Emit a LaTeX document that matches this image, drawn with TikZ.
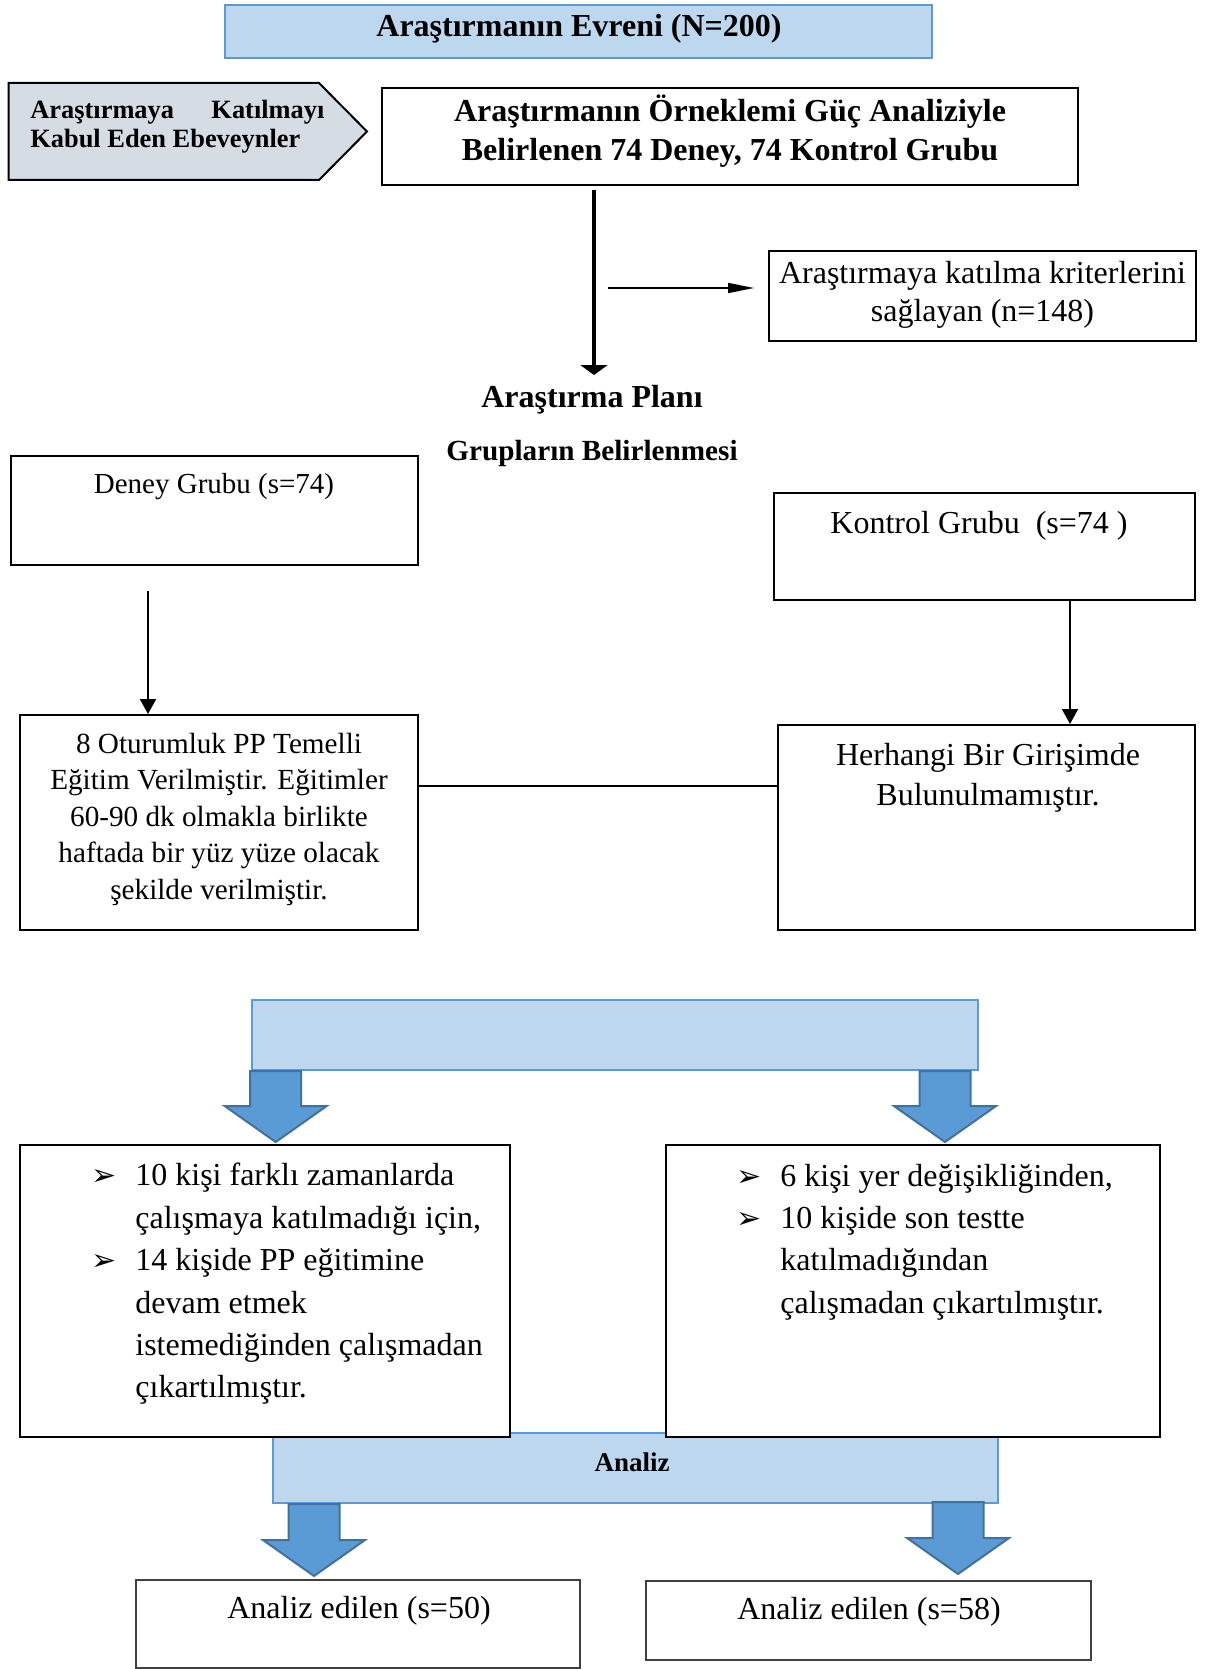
\documentclass[tikz,border=0pt]{standalone}
\usepackage{fontspec}
\setmainfont{Liberation Serif}
\newfontfamily\symfont{DejaVu Sans}
\usetikzlibrary{arrows.meta}
\definecolor{lb}{HTML}{BDD7EE}
\definecolor{lbd}{HTML}{5B9BD5}
\definecolor{ab}{HTML}{5B9BD5}
\definecolor{abd}{HTML}{41719C}
\definecolor{chev}{HTML}{D6DCE4}
\newcommand\bul{\makebox[22pt][l]{\symfont\fontsize{15}{15}\selectfont ➢}}
\newcommand\nob{\hspace*{22pt}}
\newcommand\blockarr[4]{\draw[barrow] (#1-25.5,#2) -- (#1+25.5,#2) -- (#1+25.5,#3) -- (#1+51,#3) -- (#1,#4) -- (#1-51,#3) -- (#1-25.5,#3) -- cycle;}
\begin{document}
\begin{tikzpicture}[x=0.5pt,y=-0.5pt,
  every node/.style={inner sep=0pt},
  box/.style={draw, line width=1pt, fill=white},
  bluebox/.style={draw=lbd, fill=lb, line width=1pt},
  txt/.style={align=center, font=\fontsize{16}{19.25}\selectfont},
  btxt/.style={align=center, font=\bfseries\fontsize{16}{19.25}\selectfont},
  thickarr/.style={line width=2pt, -{Triangle[length=5pt,width=13.5pt]}},
  thinarr/.style={line width=0.8pt, -{Triangle[length=13pt,width=5pt]}},
  midarr/.style={line width=1pt, -{Triangle[length=7.5pt,width=8pt]}},
  barrow/.style={fill=ab, draw=abd, line width=1pt},
  gbox/.style={draw=black!75, line width=0.8pt, fill=white}]
\useasboundingbox (0,0) rectangle (1206,1669);
\fill[white] (0,0) rectangle (1206,1669);

% top
\node[bluebox, minimum width=353.9pt, minimum height=26.6pt] (top) at (578.5,31.9) {};
\node[btxt] (topt) at (579,29) {Araştırmanın Evreni (N=200)};

% chevron
\draw[fill=chev, line width=1pt] (8.5,83) -- (319,83) -- (367,131.5) -- (319,180) -- (8.5,180) -- cycle;
\node[anchor=west, align=left, font=\bfseries\fontsize{13.2}{14.4}\selectfont] (chevt) at (30,127)
  {\makebox[147pt][s]{Araştırmaya\hfill Katılmayı}\\Kabul Eden Ebeveynler};

% main
\node[box, line width=1.3pt, minimum width=348pt, minimum height=48.5pt] (main) at (730,136.5) {};
\node[btxt] (maint) at (730,131) {Araştırmanın Örneklemi Güç Analiziyle\\Belirlenen 74 Deney, 74 Kontrol Grubu};

% criteria
\node[box, minimum width=213.75pt, minimum height=44.8pt] (crit) at (982.25,295.8) {};
\node[txt] (critt) at (982.5,295) {Araştırmaya katılma kriterlerini\\sağlayan (n=148)};

\coordinate (tbx) at (594,375);
\draw[thickarr, shorten <=2pt] (main.south -| tbx) -- (tbx);
\coordinate (cs) at (608,288);
\coordinate (ce) at (754,288);
\draw[thinarr] (cs) -- (ce);

\node[font=\bfseries\fontsize{16}{19}\selectfont] (plan) at (592,400) {Araştırma Planı};
\node[font=\bfseries\fontsize{14.6}{17}\selectfont] (grp) at (592,453) {Grupların Belirlenmesi};

% groups
\node[box, minimum width=203.7pt, minimum height=54.7pt] (deney) at (214.3,510.3) {};
\node[font=\fontsize{14.5}{17}\selectfont] (deneyt) at (214,487) {Deney Grubu (s=74)};
\node[box, minimum width=210.5pt, minimum height=53.5pt] (kontrol) at (984.5,546.5) {};
\node[txt] (kontrolt) at (979,526) {Kontrol Grubu~~(s=74~)};

\node[box, minimum width=199pt, minimum height=107.5pt] (pp) at (219,822.5) {};
\node[align=center, font=\fontsize{14.6}{18.25}\selectfont] (ppt) at (219,819)
  {8 Oturumluk PP Temelli\\Eğitim Verilmiştir. Eğitimler\\60-90 dk olmakla birlikte\\haftada bir yüz yüze olacak\\şekilde verilmiştir.};
\node[box, minimum width=208.5pt, minimum height=102.5pt] (herh) at (986.5,827.5) {};
\node[align=center, font=\fontsize{16}{20}\selectfont] (herht) at (988,778) {Herhangi Bir Girişimde\\Bulunulmamıştır.};

\coordinate (d1) at (148,591);
\draw[midarr] (d1) -- (d1 |- pp.north);
\coordinate (k1) at (1070,700);
\draw[midarr] (kontrol.south -| k1) -- (herh.north -| k1);
\coordinate (m1) at (600,786);
\draw[line width=1pt] (pp.east |- m1) -- (herh.west |- m1);

% first bar and arrows
\node[bluebox, minimum width=363pt, minimum height=35.25pt] (bar1) at (615,1034.75) {};
\blockarr{275.7}{1071}{1106}{1142}
\blockarr{945}{1071}{1106}{1142}

% analiz bar
\node[bluebox, minimum width=362.95pt, minimum height=35pt] (analiz) at (635.45,1468) {};
\node[font=\bfseries\fontsize{13.5}{16}\selectfont] (analizt) at (632,1462) {Analiz};

% lists
\node[box, minimum width=245pt, minimum height=146pt] (llist) at (265,1291) {};
\node[anchor=west, align=left, font=\fontsize{16}{21.2}\selectfont] (llistt) at (91,1284)
  {\bul 10 kişi farklı zamanlarda\\\nob çalışmaya katılmadığı için,\\\bul 14 kişide PP eğitimine\\\nob devam etmek\\\nob istemediğinden çalışmadan\\\nob çıkartılmıştır.};
\node[box, minimum width=247pt, minimum height=146pt] (rlist) at (913,1291) {};
\node[anchor=west, align=left, font=\fontsize{16}{21.2}\selectfont] (rlistt) at (736,1242)
  {\bul 6 kişi yer değişikliğinden,\\\bul 10 kişide son testte\\\nob katılmadığından\\\nob çalışmadan çıkartılmıştır.};

\blockarr{314}{1504}{1540}{1576}
\blockarr{958}{1502}{1538}{1574}

% bottom boxes
\node[gbox, minimum width=222pt, minimum height=44pt] (bl) at (358,1624) {};
\node[txt] (blt) at (359,1611) {Analiz edilen (s=50)};
\node[gbox, minimum width=222.5pt, minimum height=39.5pt] (br) at (868.5,1620.5) {};
\node[txt] (brt) at (869,1612) {Analiz edilen (s=58)};
\end{tikzpicture}
\end{document}
